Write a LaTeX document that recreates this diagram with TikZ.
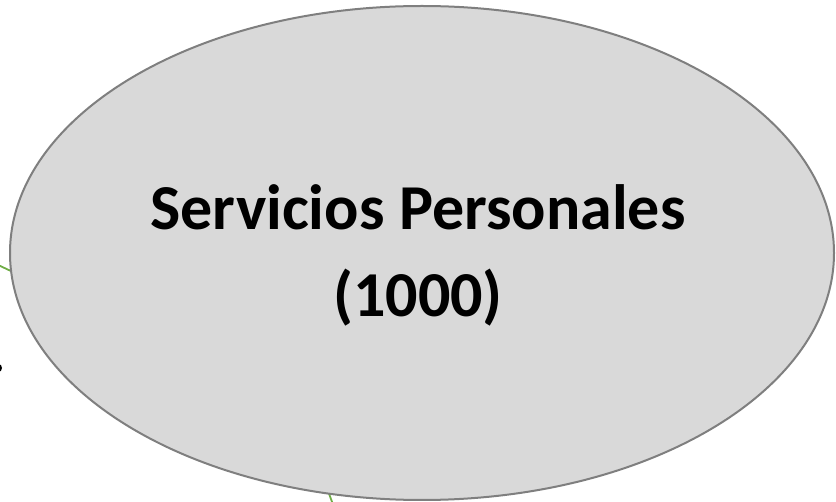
\documentclass[tikz,border=0pt]{standalone}
\usepackage{fontspec}
\setmainfont{Carlito}
\definecolor{ellfill}{HTML}{D9D9D9}
\definecolor{elldraw}{HTML}{7F7F7F}
\definecolor{lnkgreen}{HTML}{70AD47}
\usetikzlibrary{shapes.geometric}
\tikzset{
  bubble/.style={ellipse, fill=ellfill, draw=elldraw, line width=2pt, minimum width=824pt, minimum height=494pt, inner sep=0pt},
  lbl/.style={font=\fontsize{64}{87}\selectfont\bfseries, align=center, text=black},
  link/.style={draw=lnkgreen, line width=1.8pt}
}
\begin{document}
\begin{tikzpicture}[x=1pt,y=1pt]
\useasboundingbox (0,0) rectangle (836,-502);
\clip (0,0) rectangle (836,-502);
\coordinate (g1) at (-4,-264);
\coordinate (g2) at (335,-510);
\coordinate (g1e) at (30,-280);
\coordinate (g2e) at (324,-480);
\draw[link] (g1) -- (g1e);
\draw[link] (g2) -- (g2e);
\node[bubble] (b) at (422,-253) {};
\fill[black] (-3,-364) .. controls (1,-364) and (2,-366) .. (2,-368)
  .. controls (2,-370) and (1,-372) .. (-3,-372) -- cycle;
\node[lbl] (t) at (418,-255) {Servicios Personales\\(1000)};
\end{tikzpicture}
\end{document}
